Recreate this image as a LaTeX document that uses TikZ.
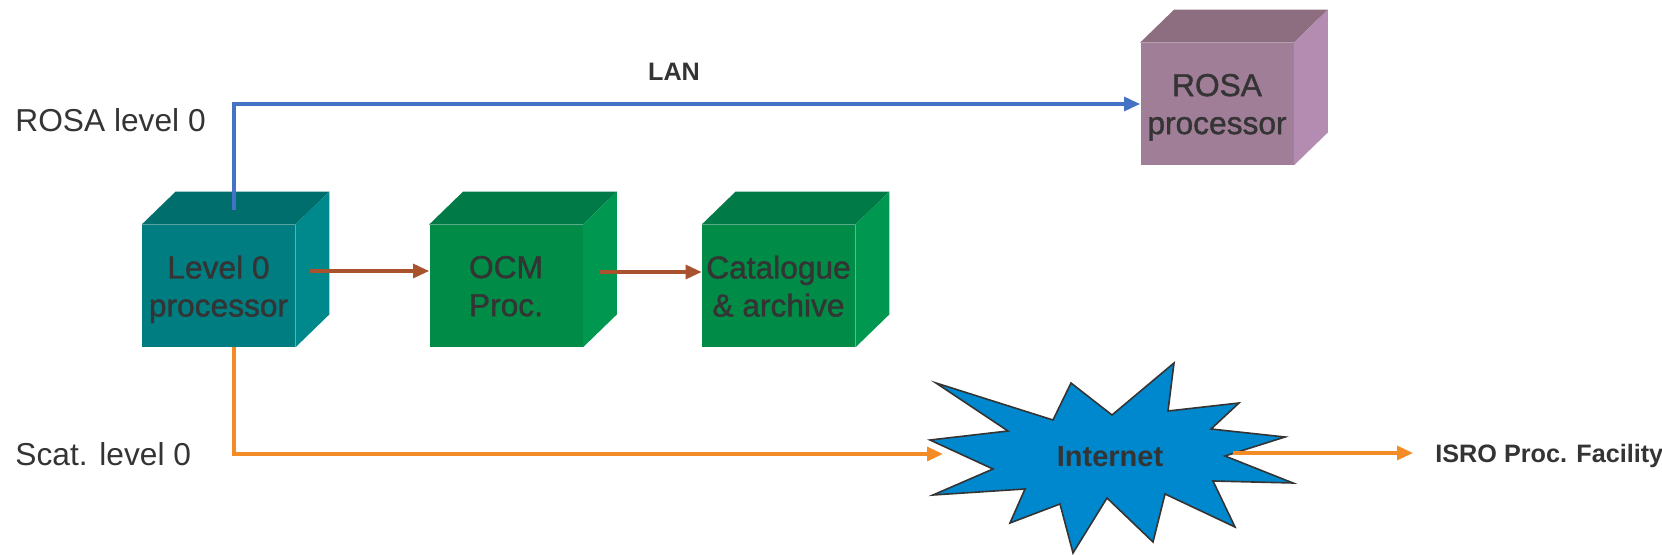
\documentclass[tikz,border=0pt]{standalone}
\usepackage{fontspec}
\setmainfont{Liberation Sans}
\newfontfamily\boxfont{Liberation Sans}[FakeBold=1.2]
\usetikzlibrary{arrows.meta}

\definecolor{textgray}{RGB}{52,52,52}
\definecolor{tealfront}{RGB}{0,125,128}
\definecolor{tealtop}{RGB}{0,110,108}
\definecolor{tealside}{RGB}{0,137,141}
\definecolor{greenfront}{RGB}{0,140,70}
\definecolor{greentop}{RGB}{0,122,70}
\definecolor{greenside}{RGB}{0,152,80}
\definecolor{rosafront}{RGB}{160,126,152}
\definecolor{rosatop}{RGB}{140,110,128}
\definecolor{rosaside}{RGB}{180,140,178}
\definecolor{netblue}{RGB}{0,136,206}
\definecolor{lanblue}{RGB}{68,114,196}
\definecolor{scatorange}{RGB}{243,140,38}
\definecolor{flowbrown}{RGB}{168,82,46}

% top and side faces of a box, drawn from the corners of its front node
\newcommand{\boxsides}[3]{%
  \fill[#2] (#1.north west) -- ++(34,-33) -- ([shift={(34,-33)}]#1.north east) -- (#1.north east) -- cycle;
  \fill[#3] (#1.north east) -- ++(34,-33) -- ([shift={(34,-33)}]#1.south east) -- (#1.south east) -- cycle;
}

\begin{document}
\begin{tikzpicture}[x=0.5pt,y=-0.5pt,
  box front/.style={inner sep=0pt,minimum width=76.5pt,minimum height=61pt,align=center,
    text=textgray,text depth=-2.6pt,font=\boxfont\fontsize{15.85}{19}\selectfont},
  side label/.style={inner sep=0pt,anchor=west,text=textgray,text depth=0pt,font=\fontsize{15.85}{19}\selectfont},
  bold label/.style={text=textgray,text depth=0pt,font=\fontsize{12.6}{15}\selectfont\bfseries},
  lan arrow/.style={draw=lanblue,line width=1.6pt,-{Triangle[length=8pt,width=7pt]}},
  scat arrow/.style={draw=scatorange,line width=1.6pt,-{Triangle[length=8pt,width=7pt]}},
  flow arrow/.style={draw=flowbrown,line width=1.6pt,-{Triangle[length=8pt,width=7pt]}},
  net star/.style={fill=netblue,draw=textgray,line width=0.8pt,line join=miter}]

  \useasboundingbox (0,0) rectangle (1662,555);

  % boxes
  \node[box front,fill=tealfront] (l0) at (218.5,286) {Level 0\\processor};
  \boxsides{l0}{tealtop}{tealside}
  \node[box front,fill=greenfront] (ocm) at (506,286) {OCM\\Proc.};
  \boxsides{ocm}{greentop}{greenside}
  \node[box front,fill=greenfront] (cat) at (778.5,286) {Catalogue\\\& archive};
  \boxsides{cat}{greentop}{greenside}
  \node[box front,fill=rosafront] (rosa) at (1217,104) {ROSA\\processor};
  \boxsides{rosa}{rosatop}{rosaside}

  % internet
  \draw[net star] (936,383) -- (1053,420) -- (1071,383) -- (1112,415) -- (1174,363)
    -- (1168,411) -- (1239,403) -- (1211,429) -- (1285,437) -- (1225,456)
    -- (1293,483) -- (1213,481) -- (1235,527) -- (1165,494) -- (1153,542)
    -- (1107,498) -- (1073,553) -- (1060,504) -- (1010,523) -- (1025,489)
    -- (933,495) -- (993,469) -- (930,440) -- (1008,431) -- cycle;
  \node[text=textgray,font=\fontsize{14.5}{17}\selectfont\bfseries] (inet) at (1110,457) {Internet};
  \coordinate (netin) at (943,454);
  \coordinate (netout) at (1233,453);

  % labels
  \node[side label] (rosalevel) at (15,120) {ROSA level 0};
  \node[side label] (scatlevel) at (15,454) {Scat. level 0};
  \node[bold label] (lan) at (674,72) {LAN};
  \node[bold label,anchor=west,inner xsep=11pt] (isro) at (1413,453) {ISRO Proc. Facility};

  % connectors
  \draw[lan arrow] ([xshift=7.75pt,yshift=7.5pt]l0.north) |- (rosa.west);
  \draw[scat arrow] ([xshift=7.75pt]l0.south) |- (netin);
  \draw[scat arrow] (netout) -- (isro.west);
  \draw[flow arrow] ([xshift=7.5pt,yshift=7.5pt]l0.east) -- ([yshift=7.5pt]ocm.west);
  \draw[flow arrow] ([xshift=8pt,yshift=7pt]ocm.east) -- ([yshift=7pt]cat.west);
\end{tikzpicture}
\end{document}
